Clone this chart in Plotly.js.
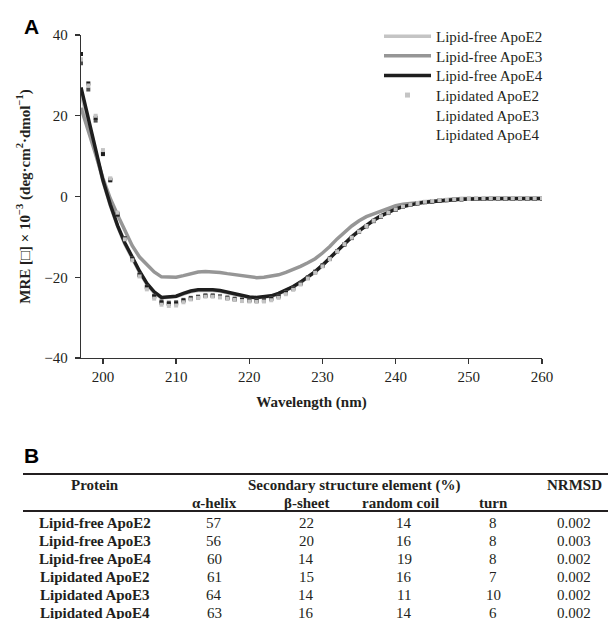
<!DOCTYPE html>
<html>
<head>
<meta charset="utf-8">
<script src="https://cdn.plot.ly/plotly-3.0.1.min.js"></script>
<style>html,body{margin:0;padding:0;background:#fff;}#chart{width:608px;height:619px;}</style>
</head>
<body>
<div id="chart"></div>
<script>
// ---------- Data ----------
const wavelength = [197,198,199,200,201,202,203,204,205,206,207,208,209,210,211,212,213,214,215,216,217,218,219,220,221,222,223,224,225,226,227,228,229,230,231,232,233,234,235,236,237,238,239,240,241,242,243,244,245,246,247,248,249,250,251,252,253,254,255,256,257,258,259,260];

const lipidFreeE2 = [25.5,18.5,11.0,3.8,-2.2,-7.4,-11.8,-15.3,-18.8,-21.7,-23.8,-25.1,-25.0,-24.8,-24.2,-23.6,-23.3,-23.2,-23.3,-23.5,-23.9,-24.3,-24.7,-25.0,-25.1,-25.0,-24.7,-24.1,-23.3,-22.4,-21.3,-20.0,-18.6,-17.0,-15.2,-13.3,-11.5,-9.9,-8.4,-7.0,-5.8,-4.7,-3.8,-3.0,-2.4,-1.9,-1.6,-1.3,-1.1,-1.0,-0.8,-0.7,-0.6,-0.6,-0.5,-0.5,-0.5,-0.5,-0.5,-0.5,-0.5,-0.5,-0.5,-0.5];

const lipidFreeE3 = [22.0,16.5,10.5,4.5,-0.5,-4.6,-8.6,-12.2,-15.0,-17.0,-18.7,-19.9,-20.0,-20.0,-19.6,-19.1,-18.7,-18.6,-18.6,-18.8,-19.1,-19.4,-19.7,-20.0,-20.1,-20.0,-19.8,-19.4,-18.8,-18.1,-17.3,-16.4,-15.4,-14.0,-12.4,-10.5,-8.8,-7.3,-6.0,-5.0,-4.3,-3.6,-3.0,-2.3,-1.9,-1.7,-1.5,-1.2,-1.0,-0.8,-0.7,-0.6,-0.5,-0.5,-0.5,-0.5,-0.5,-0.5,-0.5,-0.5,-0.5,-0.5,-0.5,-0.5];

const lipidFreeE4 = [27.0,19.5,11.5,4.0,-2.0,-7.2,-11.5,-15.0,-18.5,-21.5,-23.6,-25.0,-24.9,-24.7,-24.0,-23.4,-23.1,-23.0,-23.1,-23.3,-23.7,-24.1,-24.5,-24.9,-25.0,-24.9,-24.6,-24.0,-23.2,-22.3,-21.2,-19.9,-18.6,-17.0,-15.3,-13.4,-11.6,-10.0,-8.5,-7.1,-5.9,-4.8,-3.9,-3.1,-2.5,-2.0,-1.7,-1.4,-1.2,-1.0,-0.9,-0.8,-0.7,-0.6,-0.6,-0.5,-0.5,-0.5,-0.5,-0.5,-0.5,-0.5,-0.5,-0.5];

const lipidatedE2 = [34.0,27.5,20.0,11.5,4.5,-4.0,-10.6,-15.8,-19.8,-23.0,-25.3,-26.8,-27.1,-27.0,-26.2,-25.5,-25.1,-24.8,-24.8,-25.0,-25.3,-25.6,-25.9,-26.0,-26.1,-26.0,-25.7,-25.1,-24.2,-23.1,-21.8,-20.3,-18.9,-17.3,-15.5,-13.6,-11.8,-10.2,-8.7,-7.3,-6.0,-4.9,-4.0,-3.2,-2.5,-2.0,-1.6,-1.3,-1.1,-0.9,-0.8,-0.7,-0.6,-0.6,-0.5,-0.5,-0.5,-0.5,-0.5,-0.5,-0.5,-0.5,-0.5,-0.5];

const lipidatedE3 = [33.0,26.5,18.8,10.8,4.2,-4.3,-10.3,-15.3,-19.3,-22.3,-24.6,-26.0,-26.3,-26.2,-25.6,-25.1,-24.8,-24.5,-24.5,-24.7,-25.0,-25.3,-25.5,-25.6,-25.7,-25.6,-25.2,-24.6,-23.7,-22.7,-21.4,-20.0,-18.6,-17.0,-15.3,-13.5,-11.8,-10.2,-8.7,-7.3,-6.0,-4.9,-4.0,-3.2,-2.5,-2.0,-1.7,-1.4,-1.2,-1.0,-0.9,-0.8,-0.7,-0.6,-0.6,-0.6,-0.6,-0.6,-0.6,-0.6,-0.6,-0.6,-0.6,-0.6];

const lipidatedE4 = [35.3,28.0,19.5,10.5,4.0,-4.5,-10.5,-15.5,-19.5,-22.5,-24.8,-26.3,-26.6,-26.5,-25.8,-25.3,-25.0,-24.6,-24.6,-24.9,-25.2,-25.5,-25.7,-25.8,-25.9,-25.8,-25.4,-24.8,-23.9,-22.9,-21.6,-20.2,-18.8,-17.2,-15.5,-13.6,-11.9,-10.3,-8.8,-7.4,-6.1,-5.0,-4.1,-3.3,-2.6,-2.1,-1.7,-1.4,-1.2,-1.0,-0.9,-0.8,-0.7,-0.6,-0.6,-0.6,-0.6,-0.6,-0.6,-0.6,-0.6,-0.6,-0.6,-0.6];

const seriesNames = ['Lipid-free ApoE2','Lipid-free ApoE3','Lipid-free ApoE4','Lipidated ApoE2','Lipidated ApoE3','Lipidated ApoE4'];
const xTicks = [200,210,220,230,240,250,260];
const yTicks = [-40,-20,0,20,40];

// Table (panel B)
const tableProteins = ['Lipid-free ApoE2','Lipid-free ApoE3','Lipid-free ApoE4','Lipidated ApoE2','Lipidated ApoE3','Lipidated ApoE4'];
const alphaHelix = ['57','56','60','61','64','63'];
const betaSheet = ['22','20','14','15','14','16'];
const randomCoil = ['14','16','19','16','11','14'];
const turnPct = ['8','8','8','7','10','6'];
const nrmsd = ['0.002','0.003','0.002','0.002','0.002','0.002'];
const subHeaders = ['α-helix','β-sheet','random coil','turn'];

// ---------- Styling ----------
const SERIF = 'Liberation Serif, Times New Roman, serif';
const SANS = 'Liberation Sans, Arial, sans-serif';
const INK = '#231f20';
const W = 608, H = 619;
const M = {l: 81, r: 66, t: 35, b: 261};
const PW = W - M.l - M.r, PH = H - M.t - M.b;
const px = x => (x - M.l) / PW;
const py = y => (H - M.b - y) / PH;

const lineColors = ['#c4c4c4', '#969696', '#1e1e1e'];
const markColors = ['#c4c4c4', '#505050', '#1e1e1e'];

const traces = [];
[lipidFreeE2, lipidFreeE3, lipidFreeE4].forEach((ys, i) => {
  traces.push({x: wavelength, y: ys, type: 'scatter', mode: 'lines', name: seriesNames[i],
    line: {color: lineColors[i], width: 3.5}, showlegend: true, hoverinfo: 'skip'});
});
// lipidated markers (drawn: E3, E4, then E2 on top)
[[lipidatedE3, 1], [lipidatedE4, 2], [lipidatedE2, 0]].forEach(([ys, i]) => {
  traces.push({x: wavelength, y: ys, type: 'scatter', mode: 'markers', name: seriesNames[3 + i],
    marker: {symbol: 'square', size: 4, color: markColors[i], line: {width: 0}}, showlegend: false, hoverinfo: 'skip'});
});
// legend entries for lipidated series
[0, 1, 2].forEach(i => {
  traces.push({x: [null], y: [null], type: 'scatter', mode: 'markers', name: seriesNames[3 + i],
    marker: {symbol: 'square', size: 5, color: i === 0 ? markColors[0] : 'rgba(0,0,0,0)', line: {width: 0}},
    showlegend: true, hoverinfo: 'skip'});
});

const annotations = [];
const shapes = [];
function txt(x, y, text, opts) {
  annotations.push(Object.assign({xref: 'paper', yref: 'paper', x: px(x), y: py(y), text: text,
    showarrow: false, xanchor: 'center', yanchor: 'middle',
    font: {family: SERIF, size: 15, color: INK}}, opts || {}));
}
// Panel letters
txt(22, 27, '<b>A</b>', {xanchor: 'left', font: {family: SANS, size: 21, color: '#000'}});
txt(22, 455, '<b>B</b>', {xanchor: 'left', font: {family: SANS, size: 21, color: '#000'}});

// Table lines
[474, 511].forEach(y => {
  shapes.push({type: 'line', xref: 'paper', yref: 'paper', x0: px(23), x1: px(608), y0: py(y), y1: py(y),
    line: {color: '#231f20', width: 2}});
});
// Headers
txt(95, 485, '<b>Protein</b>');
txt(354, 485, '<b>Secondary structure element (%)</b>');
txt(574, 485, '<b>NRMSD</b>');
const colX = [214, 306, 400, 493];
const valX = [214, 306, 404, 493];
subHeaders.forEach((s, i) => txt(colX[i], 503, '<b>' + s + '</b>'));
const rowY = [523, 541, 559, 577, 595, 613];
tableProteins.forEach((p, r) => {
  txt(95, rowY[r], '<b>' + p + '</b>');
  txt(valX[0], rowY[r], alphaHelix[r]);
  txt(valX[1], rowY[r], betaSheet[r]);
  txt(valX[2], rowY[r], randomCoil[r]);
  txt(valX[3], rowY[r], turnPct[r]);
  txt(574, rowY[r], nrmsd[r]);
});

const axisCommon = {
  showgrid: false, zeroline: false, showline: true, linecolor: '#333', linewidth: 1.3,
  ticks: 'outside', ticklen: 5, tickwidth: 1.3, tickcolor: '#333',
  tickfont: {family: SERIF, size: 15, color: INK}, automargin: false, fixedrange: true
};

const layout = {
  width: W, height: H, margin: M,
  paper_bgcolor: '#fff', plot_bgcolor: '#fff',
  showlegend: true,
  legend: {x: px(379), y: py(20), xanchor: 'left', yanchor: 'top', bgcolor: 'rgba(0,0,0,0)',
    font: {family: SERIF, size: 15, color: INK}, itemwidth: 47, tracegroupgap: 0, traceorder: 'normal'},
  xaxis: Object.assign({}, axisCommon, {range: [197, 260], tickvals: xTicks, ticktext: xTicks.map(String),
    title: {text: '<b>Wavelength (nm)</b>', font: {family: SERIF, size: 15, color: INK}, standoff: 12}}),
  yaxis: Object.assign({}, axisCommon, {range: [-40, 40], tickvals: yTicks,
    ticktext: yTicks.map(v => v < 0 ? '\u2212' + Math.abs(v) : String(v)), ticklabelstandoff: 4,
    title: {text: '<b>MRE [\u25A1] \u00D7 10<sup>\u22123</sup> (deg\u00B7cm<sup>2</sup>\u00B7dmol<sup>\u22121</sup>)</b>',
      font: {family: SERIF, size: 15, color: INK}, standoff: 10}}),
  annotations: annotations,
  shapes: shapes
};

Plotly.newPlot('chart', traces, layout, {displayModeBar: false, staticPlot: true}).then(gd => {
  // tighten legend row spacing to match the reference (≈19.6 px per entry)
  const items = gd.querySelectorAll('.legend .traces');
  let x0 = null, y0 = null;
  items.forEach((g, i) => {
    const m = /translate\(\s*([-\d.]+)[ ,]+([-\d.]+)\s*\)/.exec(g.getAttribute('transform') || '');
    if (!m) return;
    if (x0 === null) { x0 = parseFloat(m[1]); y0 = parseFloat(m[2]); }
    g.setAttribute('transform', 'translate(' + x0 + ',' + (y0 + i * 19.6) + ')');
  });
});
</script>
</body>
</html>
